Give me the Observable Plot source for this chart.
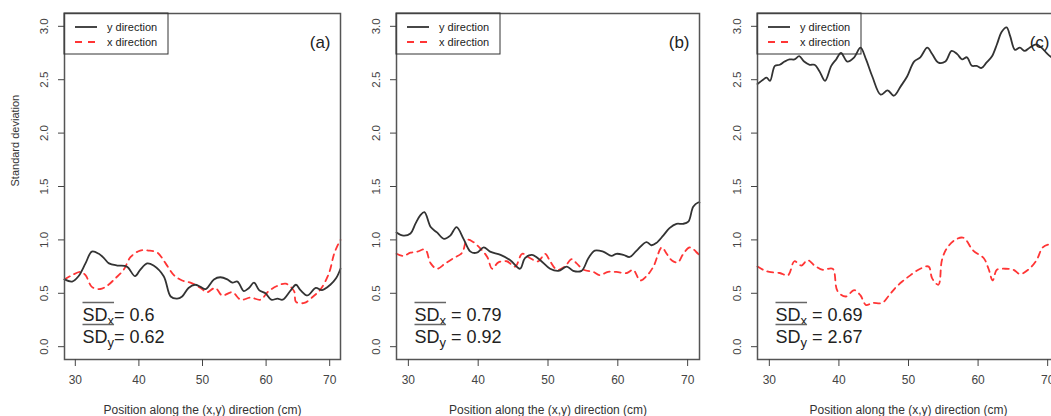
<!DOCTYPE html>
<html><head><meta charset="utf-8">
<script src="https://cdn.jsdelivr.net/npm/d3@7"></script>
<script src="https://cdn.jsdelivr.net/npm/@observablehq/plot@0.6"></script>
<style>
html,body{margin:0;padding:0;background:#fff;overflow:hidden;}
#wrap{position:relative;width:1051px;height:416px;overflow:hidden;}
.panel{position:absolute;top:0;height:416px;}
.panel svg{max-width:none !important;}
</style></head><body><div id="wrap"></div>
<script>
// ---------- data ----------
const xTicks = [30, 40, 50, 60, 70];
const yTicks = [0, 0.5, 1, 1.5, 2, 2.5, 3];
const seriesNames = ["y direction", "x direction"];
const panelLabels = ["(a)", "(b)", "(c)"];
const xTitle = "Position along the (x,y) direction (cm)";
const yTitle = "Standard deviation";

// panel (a)
const aYPos = [28.3,29.5,30.5,31.6,32.6,33.7,34.5,35.3,36.6,38.1,39.4,40.2,41.3,42.3,43.9,45.0,46.0,46.8,47.8,48.8,49.7,50.5,51.8,52.8,53.9,54.7,55.5,56.5,57.3,58.1,58.9,59.9,60.8,61.8,62.6,63.9,64.7,65.4,66.5,67.8,68.8,70.1,71.0,71.7];
const aYVal = [0.63,0.61,0.66,0.78,0.89,0.87,0.83,0.78,0.76,0.75,0.66,0.72,0.78,0.76,0.66,0.47,0.45,0.47,0.55,0.58,0.56,0.54,0.63,0.65,0.63,0.60,0.61,0.52,0.55,0.60,0.53,0.50,0.44,0.45,0.44,0.53,0.58,0.53,0.48,0.55,0.53,0.58,0.64,0.73];
const aXPos = [28.3,29.5,30.8,31.6,32.6,33.9,35.0,36.3,37.6,38.7,40.2,41.5,42.9,44.2,45.5,46.8,48.1,49.7,50.7,52.0,53.1,54.7,56.0,57.6,59.1,60.4,61.8,63.1,64.4,64.7,66.0,67.4,68.6,69.9,70.7,71.5,71.7];
const aXVal = [0.63,0.67,0.70,0.67,0.56,0.54,0.57,0.64,0.72,0.84,0.90,0.90,0.88,0.78,0.67,0.62,0.60,0.55,0.51,0.55,0.48,0.51,0.44,0.46,0.44,0.52,0.57,0.59,0.52,0.42,0.41,0.47,0.54,0.69,0.87,0.98,1.00];

// panel (b)
const bYPos = [28.3,29.3,30.3,31.0,31.7,32.3,33.2,34.1,35.1,36.0,36.9,37.9,38.9,39.8,40.8,41.7,43.2,44.6,46.0,46.7,47.7,48.9,50.3,51.5,52.7,53.6,54.8,55.8,56.7,57.9,59.1,59.8,60.8,61.7,62.7,64.1,64.8,65.5,66.5,67.4,68.4,69.3,70.1,70.8,71.5,71.7];
const bYVal = [1.07,1.04,1.06,1.15,1.23,1.26,1.12,1.07,1.01,1.04,1.12,1.01,0.89,0.88,0.93,0.89,0.86,0.81,0.73,0.83,0.86,0.81,0.73,0.71,0.75,0.71,0.71,0.83,0.90,0.89,0.85,0.87,0.86,0.84,0.90,0.98,0.95,0.97,1.04,1.11,1.15,1.15,1.17,1.31,1.35,1.35];
const bXPos = [28.3,29.3,30.3,31.3,32.4,33.2,34.1,35.3,36.5,37.7,38.4,39.3,40.3,41.3,42.0,42.9,44.1,45.3,46.3,47.4,48.6,49.6,50.3,51.3,52.4,53.4,54.1,55.1,56.5,57.4,58.6,59.8,61.3,62.2,63.2,64.1,65.1,66.3,67.0,67.7,68.6,69.3,70.3,71.5,71.7];
const bXVal = [0.87,0.85,0.88,0.89,0.91,0.78,0.73,0.78,0.83,0.88,1.00,0.98,0.92,0.84,0.73,0.79,0.80,0.75,0.87,0.83,0.80,0.87,0.80,0.72,0.75,0.82,0.78,0.72,0.70,0.67,0.70,0.70,0.69,0.72,0.62,0.66,0.75,0.93,0.87,0.81,0.79,0.86,0.93,0.87,0.86];

// panel (c)
const cYPos = [28.3,29.1,29.6,30.1,30.8,31.5,32.2,32.9,33.6,34.3,35.0,35.8,36.5,37.2,38.0,38.9,39.6,40.3,41.2,42.2,43.1,43.9,44.8,46.0,47.0,47.9,48.9,49.8,50.8,51.7,52.7,53.4,54.3,55.3,56.2,57.0,57.7,58.4,59.1,59.8,60.5,61.2,62.0,62.7,63.4,64.1,64.6,65.3,66.0,66.7,67.4,68.4,69.1,70.0,70.8,71.7];
const cYVal = [2.46,2.50,2.52,2.49,2.63,2.64,2.67,2.69,2.69,2.72,2.67,2.64,2.64,2.58,2.49,2.63,2.69,2.75,2.67,2.71,2.80,2.69,2.53,2.36,2.40,2.35,2.44,2.53,2.67,2.71,2.80,2.74,2.66,2.67,2.77,2.74,2.69,2.71,2.63,2.63,2.61,2.66,2.72,2.83,2.95,2.99,2.91,2.78,2.80,2.77,2.80,2.83,2.80,2.74,2.70,2.68];
const cXPos = [28.3,29.1,30.0,31.5,32.7,33.6,34.6,35.5,36.5,37.7,39.1,39.8,41.0,42.2,43.1,43.9,44.8,46.2,47.2,48.1,49.1,50.3,51.7,52.9,53.4,54.3,54.8,55.5,56.7,57.9,59.3,60.8,61.5,62.1,62.7,63.9,65.1,66.0,67.2,68.4,69.3,70.3,71.0,71.7];
const cXVal = [0.75,0.72,0.70,0.69,0.67,0.80,0.76,0.81,0.76,0.72,0.73,0.52,0.47,0.53,0.48,0.39,0.41,0.41,0.48,0.55,0.61,0.67,0.73,0.75,0.64,0.58,0.81,0.92,1.00,1.02,0.90,0.83,0.73,0.62,0.72,0.73,0.72,0.68,0.72,0.81,0.93,0.96,0.96,0.94];

// mean SD annotations
const sdxText = ["= 0.6", " = 0.79", " = 0.69"];
const sdyText = ["= 0.62", " = 0.92", " = 2.67"];

// ---------- layout ----------
const FONT = '"Liberation Sans", Arial, Helvetica, sans-serif';
const layouts = [
  {left: 0,   width: 350, ml: 64, mr: 10, yLabel: true},
  {left: 350, width: 350, ml: 46, mr: 1,  yLabel: false},
  {left: 700, width: 359, ml: 57, mr: 0,  yLabel: false}
];
const series = [
  [aYPos, aYVal, aXPos, aXVal],
  [bYPos, bYVal, bXPos, bXVal],
  [cYPos, cYVal, cXPos, cXVal]
];
const MT = 13, MB = 57, H = 416;
const wrap = document.getElementById("wrap");
const svgs = [];

layouts.forEach((L, k) => {
  const [yp, yv, xp, xv] = series[k];
  const yDir = yp.map((p, i) => ({pos: p, sd: yv[i]}));
  const xDir = xp.map((p, i) => ({pos: p, sd: xv[i]}));
  const marks = [
    Plot.line(xDir, {x: "pos", y: "sd", stroke: "#ff3535", strokeWidth: 1.8, strokeDasharray: "6,5", curve: "catmull-rom"}),
    Plot.line(yDir, {x: "pos", y: "sd", stroke: "#333", strokeWidth: 1.8, curve: "catmull-rom"}),
    Plot.frame({stroke: "#555", strokeWidth: 1.5}),
    Plot.axisX({ticks: xTicks, tickSize: 7, tickPadding: 9, fontSize: 12, color: "#444", label: null}),
    Plot.axisY({ticks: yTicks, tickSize: 6, tickPadding: 11, tickRotate: -90, fontSize: 11.5, color: "#444", label: null, tickFormat: d => d.toFixed(1)}),
    Plot.text([panelLabels[k]], {frameAnchor: "top-right", dx: -10, dy: 22, fontSize: 17, fill: "#222"}),
    Plot.text([xTitle], {frameAnchor: "bottom", dy: 54, fontSize: 12, fill: "#333"}),
    Plot.text(["SD|x|" + sdxText[k]], {frameAnchor: "bottom-left", dx: 18, dy: -39, textAnchor: "start", fontSize: 18, fill: "#222"}),
    Plot.text(["SD|y|" + sdyText[k]], {frameAnchor: "bottom-left", dx: 18, dy: -17, textAnchor: "start", fontSize: 18, fill: "#222"})
  ];
  if (L.yLabel) marks.push(Plot.text([yTitle], {frameAnchor: "left", dx: -49, rotate: -90, fontSize: 11, fill: "#333"}));
  const svg = Plot.plot({
    width: L.width, height: H,
    marginLeft: L.ml, marginRight: L.mr, marginTop: MT, marginBottom: MB,
    style: {fontFamily: FONT, background: "transparent", overflow: "visible", maxWidth: "none"},
    x: {domain: [28.3, 71.7]},
    y: {domain: [-0.12, 3.12]},
    marks
  });
  const div = document.createElement("div");
  div.className = "panel";
  div.style.left = L.left + "px";
  div.style.width = L.width + "px";
  div.appendChild(svg);
  wrap.appendChild(div);
  svgs.push([svg, L]);
});

// legends and rich SD annotations
svgs.forEach(([svg, L]) => {
  const s = d3.select(svg);
  const g = s.append("g").attr("font-family", FONT).attr("font-size", 11).attr("text-anchor", "start");
  g.append("rect").attr("x", L.ml).attr("y", MT).attr("width", 104).attr("height", 41)
    .attr("fill", "none").attr("stroke", "#333").attr("stroke-width", 1);
  g.append("line").attr("x1", L.ml + 11).attr("x2", L.ml + 33).attr("y1", MT + 14).attr("y2", MT + 14)
    .attr("stroke", "#333").attr("stroke-width", 1.8);
  g.append("line").attr("x1", L.ml + 11).attr("x2", L.ml + 33).attr("y1", MT + 29).attr("y2", MT + 29)
    .attr("stroke", "#ff3535").attr("stroke-width", 1.8).attr("stroke-dasharray", "7,6");
  g.append("text").attr("x", L.ml + 43).attr("y", MT + 18).attr("fill", "#222").text(seriesNames[0]);
  g.append("text").attr("x", L.ml + 43).attr("y", MT + 33).attr("fill", "#222").text(seriesNames[1]);

  s.selectAll("text").filter(function () { return this.textContent.indexOf("|") >= 0; }).each(function () {
    const t = d3.select(this);
    const [base, sub, rest] = t.text().split("|");
    t.text(null);
    t.append("tspan").text(base);
    t.append("tspan").attr("dy", 4).attr("font-size", 13).text(sub);
    t.append("tspan").attr("dy", -4).text(rest);
    const p0 = this.getStartPositionOfChar(0);
    const p2 = this.getEndPositionOfChar(2);
    const yl = p0.y - 18;
    const ln = d3.select(this.parentNode).append("line")
      .attr("x1", p0.x).attr("x2", p2.x).attr("y1", yl).attr("y2", yl)
      .attr("stroke", "#666").attr("stroke-width", 1.3);
    const tr = this.getAttribute("transform");
    if (tr) ln.attr("transform", tr);
  });
});
</script></body></html>
